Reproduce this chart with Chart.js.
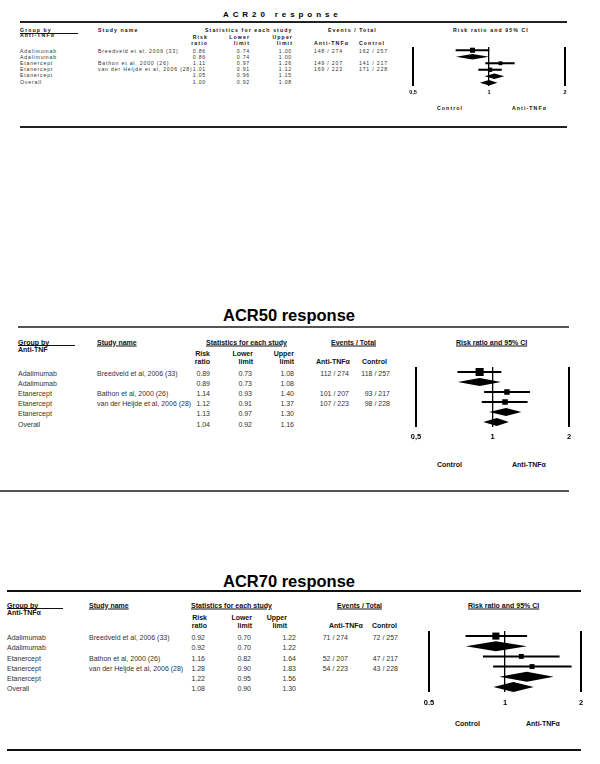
<!DOCTYPE html>
<html lang="en">
<head>
<meta charset="UTF-8" />
<title>ACR response forest plots</title>
<script src="https://cdn.jsdelivr.net/npm/chart.js"></script>
<style>
  body { margin: 0; background: #fff; }
  #page { position: relative; width: 600px; height: 764px; overflow: hidden;
          font-family: "Liberation Sans", Arial, sans-serif; color: #222; }
  .t { position: absolute; white-space: nowrap; line-height: 1; }
  .rule { position: absolute; }
  canvas { position: absolute; }
</style>
</head>
<body>
<div id="page"></div>
<script>
// rows shared by all three outcomes
const groups = ['Adalimumab', 'Adalimumab', 'Etanercept', 'Etanercept', 'Etanercept', 'Overall'];
const studies = ['Breedveld et al, 2006 (33)', '', 'Bathon et al, 2000 (26)', 'van der Heijde et al, 2006 (28)', '', ''];
const summaryRow = [false, true, false, false, true, true];
const rowIndex = [0, 1, 2, 3, 4, 5];

const statColumns = [['Risk', 'ratio'], ['Lower', 'limit'], ['Upper', 'limit']];
const eventColumns = ['Anti-TNFα', 'Control'];
const footLabels = ['Control', 'Anti-TNFα'];
const tickValues = [0.5, 1, 2];

// ACR20
const acr20RiskRatio = [0.86, 0.86, 1.11, 1.01, 1.05, 1.00];
const acr20Lower = [0.74, 0.74, 0.97, 0.91, 0.96, 0.92];
const acr20Upper = [1.00, 1.00, 1.26, 1.12, 1.15, 1.08];
const acr20Anti = ['148 / 274', '', '149 / 207', '169 / 223', '', ''];
const acr20Control = ['162 / 257', '', '141 / 217', '171 / 228', '', ''];
const acr20Weight = [1, 0, 0.75, 0.85, 0, 0];

// ACR50
const acr50RiskRatio = [0.89, 0.89, 1.14, 1.12, 1.13, 1.04];
const acr50Lower = [0.73, 0.73, 0.93, 0.91, 0.97, 0.92];
const acr50Upper = [1.08, 1.08, 1.40, 1.37, 1.30, 1.16];
const acr50Anti = ['112 / 274', '', '101 / 207', '107 / 223', '', ''];
const acr50Control = ['118 / 257', '', '93 / 217', '98 / 228', '', ''];
const acr50Weight = [1, 0, 0.68, 0.68, 0, 0];

// ACR70
const acr70RiskRatio = [0.92, 0.92, 1.16, 1.28, 1.22, 1.08];
const acr70Lower = [0.70, 0.70, 0.82, 0.90, 0.95, 0.90];
const acr70Upper = [1.22, 1.22, 1.64, 1.83, 1.56, 1.30];
const acr70Anti = ['71 / 274', '', '52 / 207', '54 / 223', '', ''];
const acr70Control = ['72 / 257', '', '47 / 217', '43 / 228', '', ''];
const acr70Weight = [1, 0, 0.7, 0.7, 0, 0];

const FONT = '"Liberation Sans", Arial, sans-serif';
Chart.defaults.font.family = FONT;
const page = document.getElementById('page');

function text(str, x, y, style, align) {
  const el = document.createElement('div');
  el.className = 't';
  el.textContent = str;
  Object.assign(el.style, style);
  el.style.left = x + 'px';
  el.style.top = y + 'px';
  const tx = align === 'right' ? '-100%' : align === 'center' ? '-50%' : '0';
  el.style.transform = `translate(${tx}, -50%)`;
  page.appendChild(el);
}

function rule(x1, x2, y, w, color) {
  const el = document.createElement('div');
  el.className = 'rule';
  el.style.left = x1 + 'px';
  el.style.width = (x2 - x1) + 'px';
  el.style.top = (y - w / 2) + 'px';
  el.style.height = w + 'px';
  el.style.background = color;
  page.appendChild(el);
}

const panels = [
  {
    title: 'ACR20 response', groupHeader: ['Group by', 'Anti-TNFα'], tickLabels: ['0,5', '1', '2'],
    riskRatio: acr20RiskRatio, lower: acr20Lower, upper: acr20Upper,
    anti: acr20Anti, control: acr20Control, weight: acr20Weight,
    layout: {
      titleX: 223, titleY: 15, titleSize: 8, titleLs: 3.9,
      ruleTop: 22, topX: [20, 567], ruleBottom: 127, bottomX: [20, 567], ruleW: 1.3, bottomW: 1.5, ruleColor: '#222',
      font: 5.2, ls: 0.8, headLs: 1.1, underline: false,
      headY: 30.6, head2Y: 36, groupX: 20, groupLineTo: 78, studyX: 98, statsX: 205, eventsX: 328, ciX: 453,
      subY: [38.2, 43.6], statHeadR: [208, 250, 293], eventHeadX: [314, 359],
      rowY0: 51.5, rowStep: 6.2, statR: [206, 250, 292],
      antiX: 314, antiAlign: 'left', ctrlX: 359, ctrlAlign: 'left',
      forest: { x05: 413, x2: 565, top: 47, bottom: 86, tickY: 92, tickSize: 5.5 },
      footY: 109, footX: [437, 512], squareR: 3.6, diamondHalf: 2.8
    }
  },
  {
    title: 'ACR50 response', groupHeader: ['Group by', 'Anti-TNF'], tickLabels: ['0,5', '1', '2'],
    riskRatio: acr50RiskRatio, lower: acr50Lower, upper: acr50Upper,
    anti: acr50Anti, control: acr50Control, weight: acr50Weight,
    layout: {
      titleX: 223, titleY: 315, titleSize: 16.5, titleLs: 0,
      ruleTop: 327, topX: [18, 569], ruleBottom: 491, bottomX: [0, 569], ruleW: 1.5, bottomW: 2, ruleColor: '#555',
      font: 7, ls: 0, headLs: 0, underline: true,
      headY: 341.5, head2Y: 349, groupX: 18, groupLineTo: 75, studyX: 97, statsX: 206, eventsX: 331, ciX: 456,
      subY: [353, 361], statHeadR: [210, 253, 294], eventHeadX: [316, 362],
      rowY0: 373, rowStep: 10.1, statR: [210, 252, 294],
      antiX: 349, antiAlign: 'right', ctrlX: 390, ctrlAlign: 'right',
      forest: { x05: 416, x2: 569, top: 367, bottom: 427, tickY: 437, tickSize: 7.5 },
      footY: 464, footX: [437, 512], squareR: 5.7, diamondHalf: 4
    }
  },
  {
    title: 'ACR70 response', groupHeader: ['Group by', 'Anti-TNFα'], tickLabels: ['0.5', '1', '2'],
    riskRatio: acr70RiskRatio, lower: acr70Lower, upper: acr70Upper,
    anti: acr70Anti, control: acr70Control, weight: acr70Weight,
    layout: {
      titleX: 223, titleY: 581, titleSize: 16.5, titleLs: 0,
      ruleTop: 591, topX: [7, 581], ruleBottom: 750, bottomX: [7, 581], ruleW: 1.5, bottomW: 2, ruleColor: '#111',
      font: 7, ls: 0, headLs: 0, underline: true,
      headY: 604.5, head2Y: 612, groupX: 7, groupLineTo: 63, studyX: 89, statsX: 191, eventsX: 337, ciX: 468,
      subY: [617, 625], statHeadR: [207, 252, 287], eventHeadX: [329, 372],
      rowY0: 637, rowStep: 10.25, statR: [205, 251, 296],
      antiX: 348, antiAlign: 'right', ctrlX: 398, ctrlAlign: 'right',
      forest: { x05: 429, x2: 581, top: 631, bottom: 692, tickY: 703, tickSize: 7.5 },
      footY: 723, footX: [455, 526], squareR: 5, diamondHalf: 5
    }
  }
];

function makeDiamonds(p, half) {
  return {
    id: 'diamonds',
    afterDatasetsDraw(chart) {
      const { ctx, scales: { x, y } } = chart;
      ctx.save();
      ctx.fillStyle = '#000';
      rowIndex.filter(i => summaryRow[i]).forEach(i => {
        const yc = y.getPixelForValue(i);
        const xl = x.getPixelForValue(p.lower[i]);
        const xc = x.getPixelForValue(p.riskRatio[i]);
        const xr = x.getPixelForValue(p.upper[i]);
        ctx.beginPath();
        ctx.moveTo(xl, yc);
        ctx.lineTo(xc, yc - half);
        ctx.lineTo(xr, yc);
        ctx.lineTo(xc, yc + half);
        ctx.closePath();
        ctx.fill();
      });
      ctx.restore();
    }
  };
}

function drawForest(p) {
  const L = p.layout, f = L.forest;
  const padX = 16, padTop = 6, axisH = 20;
  const w = (f.x2 - f.x05) + 2 * padX;
  const h = (f.bottom - f.top) + padTop + axisH;
  const canvas = document.createElement('canvas');
  canvas.width = w; canvas.height = h;
  canvas.style.width = w + 'px'; canvas.style.height = h + 'px';
  canvas.style.left = (f.x05 - padX) + 'px';
  canvas.style.top = (f.top - padTop) + 'px';
  page.appendChild(canvas);

  const studyRows = rowIndex.filter(i => !summaryRow[i]);
  new Chart(canvas, {
    type: 'bar',
    data: {
      labels: rowIndex,
      datasets: [
        {
          type: 'bar',
          data: rowIndex.map(i => summaryRow[i] ? null : [p.lower[i], p.upper[i]]),
          backgroundColor: '#000',
          borderWidth: 0,
          barThickness: 1.4
        },
        {
          type: 'scatter',
          data: studyRows.map(i => ({ x: p.riskRatio[i], y: i })),
          pointStyle: 'rect',
          pointRadius: studyRows.map(i => p.weight[i] * L.squareR),
          backgroundColor: '#000',
          borderWidth: 0
        }
      ]
    },
    options: {
      responsive: false,
      animation: false,
      indexAxis: 'y',
      layout: { padding: { left: padX, right: padX, top: padTop, bottom: 0 } },
      plugins: { legend: { display: false }, tooltip: { enabled: false } },
      scales: {
        x: {
          type: 'logarithmic',
          min: 0.5,
          max: 2,
          afterBuildTicks: s => { s.ticks = tickValues.map(v => ({ value: v })); },
          afterFit: s => { s.height = axisH; },
          ticks: {
            callback: (v, i) => p.tickLabels[i],
            color: '#000',
            font: { size: f.tickSize, weight: 'bold' },
            padding: f.tickY - f.bottom - f.tickSize * 0.6,
            maxRotation: 0,
            autoSkip: false
          },
          grid: {
            color: '#000',
            lineWidth: ctx => (ctx.tick && ctx.tick.value === 1 ? 1.3 : 2),
            drawTicks: false
          },
          border: { display: false }
        },
        y: { type: 'category', display: false, offset: true }
      }
    },
    plugins: [makeDiamonds(p, L.diamondHalf)]
  });
}

function buildPanel(p) {
  const L = p.layout;
  const body = { fontSize: L.font + 'px', letterSpacing: L.ls + 'px', color: '#333' };
  const head = { fontSize: L.font + 'px', letterSpacing: L.headLs + 'px', fontWeight: 'bold', color: '#111' };
  const headU = L.underline ? { ...head, textDecoration: 'underline' } : head;

  text(p.title, L.titleX, L.titleY,
    { fontSize: L.titleSize + 'px', fontWeight: 'bold', letterSpacing: L.titleLs + 'px', color: '#000' });
  rule(L.topX[0], L.topX[1], L.ruleTop, L.ruleW, L.ruleColor);
  rule(L.bottomX[0], L.bottomX[1], L.ruleBottom, L.bottomW, L.ruleColor);

  text(p.groupHeader[0], L.groupX, L.headY, head);
  rule(L.groupX, L.groupLineTo, L.headY + L.font * 0.6, 0.8, '#111');
  text(p.groupHeader[1], L.groupX, L.head2Y, head);
  text('Study name', L.studyX, L.headY, headU);
  text('Statistics for each study', L.statsX, L.headY, headU);
  text('Events / Total', L.eventsX, L.headY, headU);
  text('Risk ratio and 95% CI', L.ciX, L.headY, headU);

  statColumns.forEach((c, k) => {
    text(c[0], L.statHeadR[k], L.subY[0], head, 'right');
    text(c[1], L.statHeadR[k], L.subY[1], head, 'right');
  });
  eventColumns.forEach((c, k) => text(c, L.eventHeadX[k], L.subY[1], head));

  rowIndex.forEach(i => {
    const y = L.rowY0 + i * L.rowStep;
    text(groups[i], L.groupX, y, body);
    if (studies[i]) text(studies[i], L.studyX, y, body);
    [p.riskRatio[i], p.lower[i], p.upper[i]].forEach((v, k) =>
      text(v.toFixed(2), L.statR[k], y, body, 'right'));
    if (p.anti[i]) text(p.anti[i], L.antiX, y, body, L.antiAlign);
    if (p.control[i]) text(p.control[i], L.ctrlX, y, body, L.ctrlAlign);
  });

  footLabels.forEach((s, k) => text(s, L.footX[k], L.footY, head));
  drawForest(p);
}

panels.forEach(buildPanel);
</script>
</body>
</html>
